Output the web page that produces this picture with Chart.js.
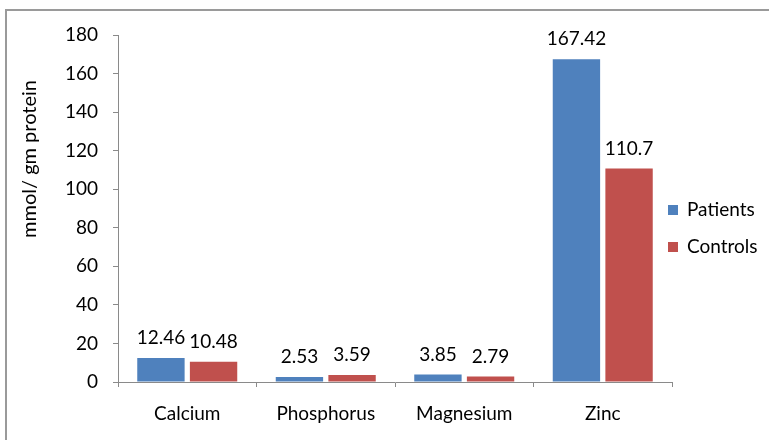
<!DOCTYPE html>
<html>
<head>
<meta charset="utf-8">
<script src="https://cdn.jsdelivr.net/npm/chart.js@4/dist/chart.umd.min.js"></script>
<style>
  html, body { margin: 0; padding: 0; background: #fff; }
  #wrap { position: relative; width: 769px; height: 440px; overflow: hidden; }
  #frame { position: absolute; left: 5px; top: 9px; width: 800px; height: 500px;
           border: 2px solid #9a9a9a; box-sizing: border-box; }
  canvas { position: absolute; left: 0; top: 0; }
</style>
</head>
<body>
<div id="wrap">
  <div id="frame"></div>
  <canvas id="c" width="769" height="440"></canvas>
</div>
<script>
const categories = ['Calcium', 'Phosphorus', 'Magnesium', 'Zinc'];
const patients = [12.46, 2.53, 3.85, 167.42];
const controls = [10.48, 3.59, 2.79, 110.7];
const valueLabels = [
  ['12.46', '2.53', '3.85', '167.42'],
  ['10.48', '3.59', '2.79', '110.7']
];
const yTitle = 'mmol/ gm protein';

const FONT = 'Lato, "Open Sans", sans-serif';
const TEXT = '#000000';
const AXIS = '#8a8a8a';
const SIZE = 19;

// value labels above each bar
const barLabels = {
  id: 'barLabels',
  afterDatasetsDraw(chart) {
    const ctx = chart.ctx;
    ctx.save();
    ctx.font = SIZE + 'px ' + FONT;
    ctx.fillStyle = TEXT;
    ctx.textAlign = 'center';
    ctx.textBaseline = 'alphabetic';
    chart.data.datasets.forEach((ds, di) => {
      chart.getDatasetMeta(di).data.forEach((bar, i) => {
        ctx.fillText(valueLabels[di][i], bar.x, bar.y - 14);
      });
    });
    ctx.restore();
  }
};

// rotated axis title and side legend
const sideText = {
  id: 'sideText',
  afterDraw(chart) {
    const ctx = chart.ctx;
    ctx.save();
    ctx.font = '20px ' + FONT;
    ctx.fillStyle = TEXT;
    ctx.translate(30, 159);
    ctx.rotate(-Math.PI / 2);
    ctx.textAlign = 'center';
    ctx.textBaseline = 'middle';
    ctx.fillText(yTitle, 0, 0);
    ctx.restore();

    ctx.save();
    ctx.font = SIZE + 'px ' + FONT;
    ctx.textBaseline = 'middle';
    chart.data.datasets.forEach((ds, i) => {
      const y = 210 + i * 37;
      ctx.fillStyle = ds.backgroundColor;
      ctx.fillRect(668, y - 5, 10, 10);
      ctx.fillStyle = TEXT;
      ctx.fillText(ds.label, 687, y);
    });
    ctx.restore();
  }
};

new Chart(document.getElementById('c'), {
  type: 'bar',
  data: {
    labels: categories,
    datasets: [
      { label: 'Patients', data: patients, backgroundColor: '#4F81BD' },
      { label: 'Controls', data: controls, backgroundColor: '#C0504D' }
    ]
  },
  options: {
    responsive: false,
    animation: false,
    events: [],
    layout: { padding: { left: 0, right: 97, top: 35, bottom: 0 } },
    categoryPercentage: 0.76,
    barPercentage: 0.9,
    plugins: { legend: { display: false }, tooltip: { enabled: false } },
    scales: {
      x: {
        grid: { offset: true, drawOnChartArea: false, drawTicks: true, tickLength: 5, color: AXIS },
        border: { color: AXIS, width: 1 },
        ticks: { color: TEXT, font: { family: FONT, size: SIZE }, padding: 15, maxRotation: 0 },
        afterFit(scale) { scale.height = 58; }
      },
      y: {
        min: 0, max: 180,
        grid: { drawOnChartArea: false, drawTicks: true, tickLength: 5, color: AXIS },
        border: { color: AXIS, width: 1 },
        ticks: { stepSize: 20, color: TEXT, font: { family: FONT, size: SIZE }, padding: 15 },
        afterFit(scale) { scale.width = 118; }
      }
    }
  },
  plugins: [barLabels, sideText]
});
</script>
</body>
</html>
